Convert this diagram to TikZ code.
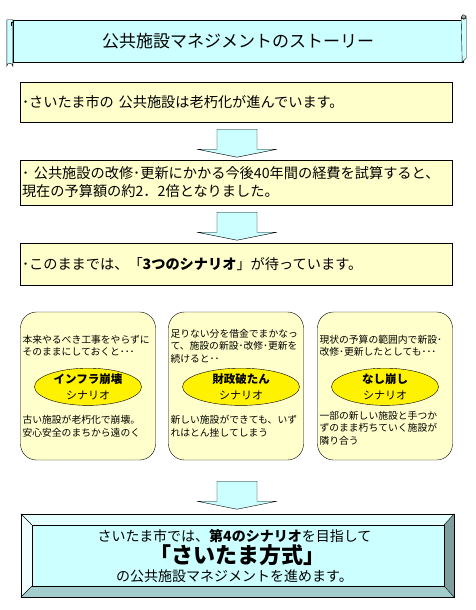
\documentclass[tikz,border=0pt]{standalone}
\usepackage{fontspec}
\setmainfont{Noto Sans CJK JP}
\usetikzlibrary{positioning,calc,shapes.geometric}

\definecolor{boxyellow}{HTML}{FFFFCC}
\definecolor{lightcyan}{HTML}{CCFFFF}
\definecolor{beveltop}{HTML}{E5FFFF}
\definecolor{bevelleft}{HTML}{F0FFFF}
\definecolor{bevelright}{HTML}{7F9F9F}
\definecolor{bevelbottom}{HTML}{A3CCCC}

\tikzset{
  banner/.style={draw, fill=lightcyan, minimum width=450pt, minimum height=42pt, inner sep=0pt, font=\fontsize{17}{20}\selectfont},
  infobox/.style={draw, fill=boxyellow, minimum width=432pt, text width=428pt, align=left, inner sep=2pt, font=\fontsize{14.2}{18}\selectfont},
  scenebox/.style={draw, fill=boxyellow, rounded corners=16pt, minimum width=135pt, minimum height=148pt},
  scenetext/.style={anchor=west, align=left, inner sep=1pt, font=\fontsize{9.8}{12.5}\selectfont},
  sceneoval/.style={ellipse, draw, fill=yellow, minimum width=107pt, minimum height=34pt, inner sep=0pt, align=center, font=\fontsize{11}{16}\selectfont},
  goalbox/.style={fill=lightcyan, minimum width=433pt, minimum height=83pt, inner sep=0pt},
  goaltext/.style={inner sep=0pt, font=\fontsize{14}{18}\selectfont},
  arrowfill/.style={draw, fill=lightcyan},
  down arrow/.pic={\path[arrowfill] (-20,0) -- (20,0) -- (20,20) -- (40,20) -- (0,28) -- (-40,20) -- (-20,20) -- cycle;}
}

\begin{document}
\begin{tikzpicture}[x=1pt, y=-1pt]
    \useasboundingbox (0,0) rectangle (475,610);

    % Title scroll
    \node[banner] (ttl) at (238,41) {公共施設マネジメントのストーリー};
    \draw[fill=lightcyan] ($(ttl.north west)+(-6,0)$) -- (ttl.north west) -- ($(ttl.south west)+(0,4)$) arc (0:-180:3) -- cycle;
    \draw ($(ttl.north west)+(-2,6)$) -- ($(ttl.north west)+(-2,2)$) -- ($(ttl.north west)+(1,2)$);
    \draw[fill=lightcyan] ($(ttl.north east)+(-2,0)$) -- ($(ttl.north east)+(-2,-3)$) arc (180:0:2.5) -- ($(ttl.south east)+(3,-4)$) -- ($(ttl.south east)+(-1,0)$) -- cycle;
    \draw[fill=gray!60] ($(ttl.north east)+(0.5,-3)$) circle (2);

    % Story boxes
    \node[infobox, minimum height=40pt] (s1) at (236,102) {･さいたま市の 公共施設は老朽化が進んでいます。};
    \node[infobox, minimum height=45pt] (s2) at (236,182.5) {･ 公共施設の改修･更新にかかる今後40年間の経費を試算すると、\\現在の予算額の約2．2倍となりました。};
    \node[infobox, minimum height=42pt] (s3) at (236,264) {･このままでは、「\textbf{3つのシナリオ}」が待っています。};

    \pic at ($(s1.south)+(1,7)$) {down arrow};
    \pic at ($(s2.south)+(1,7)$) {down arrow};

    % Three scenarios
    \node[scenebox] (scA) at (88,386) {};
    \node[scenebox] (scB) at (236,386) {};
    \node[scenebox] (scC) at (385,386) {};

    \node[scenetext] (topA) at ($(scA.north west)+(1,34)$) {本来やるべき工事をやらずに\\そのままにしておくと･･･};
    \node[sceneoval] (ovA) at ($(scA.north)+(0,75)$) {{\fontsize{11.5}{16}\selectfont\bfseries インフラ崩壊}\\シナリオ};
    \node[scenetext] (botA) at ($(scA.south west)+(1,-34)$) {古い施設が老朽化で崩壊。\\安心安全のまちから遠のく};

    \node[scenetext] (topB) at ($(scB.north west)+(1,34)$) {足りない分を借金でまかなっ\\て、施設の新設･改修･更新を\\続けると･･};
    \node[sceneoval, minimum width=117pt] (ovB) at ($(scB.north)+(5,75)$) {{\fontsize{11.5}{16}\selectfont\bfseries 財政破たん}\\シナリオ};
    \node[scenetext] (botB) at ($(scB.south west)+(1,-34)$) {新しい施設ができても、いず\\れはとん挫してしまう};

    \node[scenetext] (topC) at ($(scC.north west)+(1,34)$) {現状の予算の範囲内で新設･\\改修･更新したとしても･･･};
    \node[sceneoval] (ovC) at ($(scC.north)+(0,75)$) {{\fontsize{11.5}{16}\selectfont\bfseries なし崩し}\\シナリオ};
    \node[scenetext] (botC) at ($(scC.south west)+(1,-32)$) {一部の新しい施設と手つか\\ずのまま朽ちていく施設が\\隣り合う};

    \pic at ($(scB.south)+(1,21)$) {down arrow};

    % Goal box with bevel
    \node[goalbox] (goal) at (237.5,555.5) {};
    \fill[beveltop] (goal.north west) -- (goal.north east) -- ($(goal.north east)+(-10,11)$) -- ($(goal.north west)+(11,11)$) -- cycle;
    \fill[bevelright] (goal.north east) -- (goal.south east) -- ($(goal.south east)+(-10,-11)$) -- ($(goal.north east)+(-10,11)$) -- cycle;
    \fill[bevelbottom] (goal.south east) -- (goal.south west) -- ($(goal.south west)+(11,-11)$) -- ($(goal.south east)+(-10,-11)$) -- cycle;
    \fill[bevelleft] (goal.south west) -- (goal.north west) -- ($(goal.north west)+(11,11)$) -- ($(goal.south west)+(11,-11)$) -- cycle;
    \draw (goal.north west) rectangle (goal.south east);
    \draw ($(goal.north west)+(11,11)$) rectangle ($(goal.south east)+(-10,-11)$);
    \draw (goal.north west) -- ++(11,11);
    \draw (goal.north east) -- ++(-10,11);
    \draw (goal.south west) -- ++(11,-11);
    \draw (goal.south east) -- ++(-10,-11);

    \node[goaltext] (g1) at ($(goal.center)+(-3,-19)$) {さいたま市では、\textbf{第4のシナリオ}を目指して};
    \node[goaltext, font=\fontsize{22}{24}\selectfont\bfseries] (g2) at (goal.center) {「さいたま方式」};
    \node[goaltext] (g3) at ($(goal.center)+(-3,21)$) {の公共施設マネジメントを進めます。};
\end{tikzpicture}
\end{document}
